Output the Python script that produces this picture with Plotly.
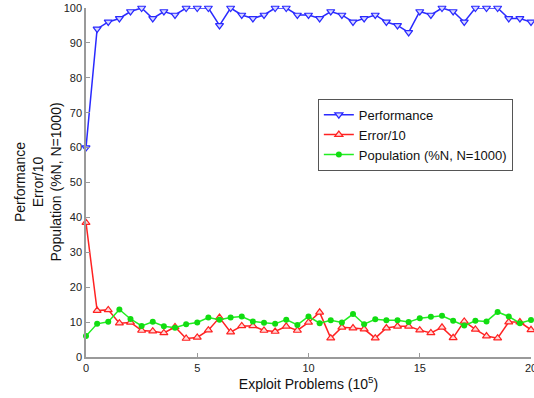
import plotly.graph_objects as go

x_vals = [i * 0.5 for i in range(41)]

performance = [60, 94, 96, 97, 99, 100, 97, 99, 98, 100,
               100, 100, 95, 100, 98, 97, 98, 100, 100, 98,
               98, 97, 99, 98, 96, 97, 98, 96, 95, 93,
               99, 98, 100, 99, 96, 100, 100, 100, 97, 97, 96]

error_10 = [38.5, 13.3, 13.5, 9.7, 9.9, 7.6, 7.4, 6.9, 8.6, 5.3,
            5.6, 7.7, 11.3, 7.1, 8.9, 8.9, 7.6, 7.3, 8.8, 7.6,
            9.9, 12.8, 5.4, 8.5, 8.3, 8.0, 5.4, 8.3, 8.8, 8.8,
            7.7, 6.9, 8.5, 5.5, 10.2, 7.9, 6.0, 5.4, 10.0, 10.0, 7.8]

population = [6.0, 9.5, 10.1, 13.6, 10.9, 8.9, 10.1, 8.8, 8.4, 9.4,
              9.9, 11.3, 10.7, 11.3, 11.6, 10.2, 9.8, 9.5, 10.7, 9.2,
              11.6, 9.7, 10.5, 9.9, 12.3, 9.4, 10.8, 10.5, 10.5, 10.0,
              11.1, 11.5, 11.8, 10.4, 9.0, 10.4, 10.2, 12.9, 11.6, 9.7, 10.6]

x_ticks = [0, 5, 10, 15, 20]
y_ticks = [0, 10, 20, 30, 40, 50, 60, 70, 80, 90, 100]

FONT = "Liberation Sans, Arial, sans-serif"

fig = go.Figure()
fig.add_trace(go.Scatter(
    x=x_vals, y=performance, name="Performance", mode="lines+markers",
    line=dict(color="#2a2aff", width=1.5),
    marker=dict(symbol="triangle-down", size=7, color="#d8d8ff",
                line=dict(color="#2a2aff", width=1.2)),
    cliponaxis=False))
fig.add_trace(go.Scatter(
    x=x_vals, y=error_10, name="Error/10", mode="lines+markers",
    line=dict(color="#ff2222", width=1.5),
    marker=dict(symbol="triangle-up", size=7, color="#ffd8d8",
                line=dict(color="#ff2222", width=1.2)),
    cliponaxis=False))
fig.add_trace(go.Scatter(
    x=x_vals, y=population, name="Population (%N, N=1000)", mode="lines+markers",
    line=dict(color="#22ee22", width=1.5),
    marker=dict(symbol="circle", size=6, color="#11dd11"),
    cliponaxis=False))

axis_common = dict(
    showgrid=False, zeroline=False, showline=True, linecolor="#9a9a9a",
    linewidth=1.5, ticks="inside", ticklen=4, tickcolor="#9a9a9a",
    tickfont=dict(family=FONT, size=11, color="#222222"),
    ticklabeloverflow="allow", automargin=False,
)

fig.update_layout(
    width=534, height=398,
    margin=dict(l=86, r=3, t=8, b=41),
    paper_bgcolor="white", plot_bgcolor="white",
    font=dict(family=FONT, color="#111111"),
    xaxis=dict(range=[0, 20], tickvals=x_ticks, **axis_common,
               title=dict(text="Exploit Problems (10<sup>5</sup>)",
                          font=dict(family=FONT, size=14), standoff=6)),
    yaxis=dict(range=[0, 100], tickvals=y_ticks, **axis_common),
    showlegend=True,
    legend=dict(x=0.521, y=0.74, xanchor="left", yanchor="top",
                bgcolor="white", bordercolor="#555555", borderwidth=1,
                font=dict(family=FONT, size=13, color="#111111"),
                tracegroupgap=0, itemwidth=30),
    annotations=[dict(
        text="Performance<br>Error/10<br>Population (%N, N=1000)",
        xref="paper", yref="paper", x=-0.11, y=0.5,
        xanchor="center", yanchor="middle", textangle=-90, showarrow=False,
        font=dict(family=FONT, size=14, color="#111111"), align="center")],
)

fig.write_html("out.html",
               config={"displayModeBar": False},
               post_script="document.body.style.margin='0';document.body.style.overflow='hidden';")
